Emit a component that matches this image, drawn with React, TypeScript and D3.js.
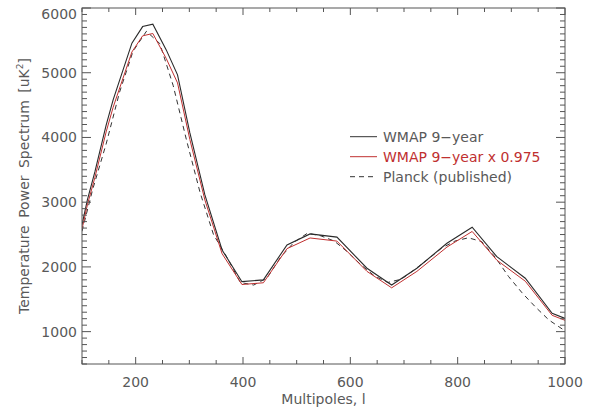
import * as d3 from 'd3';
import React from 'react';

// WMAP 9-year binned spectrum
const wmapL = [100, 110, 124, 145, 158, 193, 213, 232, 257, 278, 301, 329, 361, 398, 438, 482, 525, 575, 631, 677, 724, 780, 827, 873, 926, 976, 1000];
const wmapV = [2650, 3035, 3468, 4190, 4580, 5457, 5713, 5750, 5353, 4967, 4070, 3112, 2262, 1772, 1800, 2340, 2510, 2460, 1980, 1720, 1980, 2365, 2613, 2158, 1825, 1284, 1205];
// WMAP scaled by 0.975
const wmapScaledV = [2584, 2959, 3381, 4085, 4466, 5321, 5570, 5606, 5219, 4843, 3968, 3034, 2205, 1728, 1755, 2282, 2447, 2399, 1931, 1677, 1931, 2306, 2548, 2104, 1779, 1252, 1175];
// Planck published
const planckL = [100, 120, 145, 170, 195, 220, 245, 270, 295, 320, 345, 370, 395, 420, 445, 470, 495, 520, 545, 570, 595, 620, 645, 670, 695, 720, 745, 770, 795, 820, 845, 870, 895, 920, 945, 970, 995, 1000];
const planckV = [2550, 3200, 3900, 4700, 5330, 5640, 5450, 4800, 3950, 3150, 2500, 2150, 1760, 1720, 1830, 2150, 2380, 2520, 2480, 2400, 2230, 2030, 1860, 1760, 1810, 1960, 2120, 2290, 2400, 2450, 2390, 2150, 1850, 1600, 1380, 1180, 1040, 1030];

const xTicks = [200, 400, 600, 800, 1000];
const yTicks = [1000, 2000, 3000, 4000, 5000, 6000];
const legendLabels = ['WMAP 9\u2212year', 'WMAP 9\u2212year x 0.975', 'Planck (published)'];

const W = 595, H = 410;
const left = 82, right = 565, top = 8, bottom = 364;
const axisColor = '#555';
const textColor = '#595959';
const red = '#c03030';
const font = 'DejaVu Sans, sans-serif';

export default function App() {
  const x = d3.scaleLinear().domain([100, 1000]).range([left, right]);
  const y = d3.scaleLinear().domain([500, 6000]).range([bottom, top]);

  const line = d3.line<[number, number]>().x(d => x(d[0])).y(d => y(d[1]));
  const wmap = line(wmapL.map((l, i) => [l, wmapV[i]]));
  const wmapS = line(wmapL.map((l, i) => [l, wmapScaledV[i]]));
  const planck = line(planckL.map((l, i) => [l, planckV[i]]));

  const xMinor = d3.range(100, 1001, 50).filter(v => !xTicks.includes(v));
  const yMinor = d3.range(500, 6001, 100).filter(v => !yTicks.includes(v));

  const series = [
    { label: legendLabels[0], color: '#333', dash: undefined, textColor: textColor },
    { label: legendLabels[1], color: red, dash: undefined, textColor: red },
    { label: legendLabels[2], color: '#333', dash: '5,4', textColor: textColor },
  ];

  return (
    <svg width={W} height={H} style={{ position: 'absolute', left: 0, top: 0, background: '#fff' }}
      fontFamily={font}>
      <defs>
        <clipPath id="plot">
          <rect x={left} y={top} width={right - left} height={bottom - top} />
        </clipPath>
      </defs>

      <g clipPath="url(#plot)" fill="none" strokeLinejoin="miter">
        <path d={planck || ''} stroke="#333" strokeWidth={1} strokeDasharray="5,4" />
        <path d={wmap || ''} stroke="#2a2a2a" strokeWidth={1.1} />
        <path d={wmapS || ''} stroke={red} strokeWidth={1} />
      </g>

      {/* frame */}
      <rect x={left} y={top} width={right - left} height={bottom - top} fill="none" stroke={axisColor} strokeWidth={1} />

      {/* x ticks bottom + top */}
      {xTicks.map(t => (
        <g key={'xt' + t} stroke={axisColor}>
          <line x1={x(t)} x2={x(t)} y1={bottom} y2={bottom - 7} />
          <line x1={x(t)} x2={x(t)} y1={top} y2={top + 7} />
        </g>
      ))}
      {xMinor.map(t => (
        <g key={'xm' + t} stroke={axisColor}>
          <line x1={x(t)} x2={x(t)} y1={bottom} y2={bottom - 4} />
          <line x1={x(t)} x2={x(t)} y1={top} y2={top + 4} />
        </g>
      ))}
      {xTicks.map(t => (
        <text key={'xl' + t} x={x(t)} y={386.5} textAnchor="middle" fontSize={14} fill={textColor}>{t}</text>
      ))}

      {/* y ticks left + right */}
      {yTicks.map(t => (
        <g key={'yt' + t} stroke={axisColor}>
          <line x1={left} x2={left + 9} y1={y(t)} y2={y(t)} />
          <line x1={right} x2={right - 9} y1={y(t)} y2={y(t)} />
        </g>
      ))}
      {yMinor.map(t => (
        <g key={'ym' + t} stroke={axisColor}>
          <line x1={left} x2={left + 5} y1={y(t)} y2={y(t)} />
          <line x1={right} x2={right - 5} y1={y(t)} y2={y(t)} />
        </g>
      ))}
      {yTicks.map(t => (
        <text key={'yl' + t} x={77} y={Math.max(y(t), 14) + 5} textAnchor="end" fontSize={14} fill={textColor}>{t}</text>
      ))}

      {/* axis titles */}
      <text x={(left + right) / 2} y={404} textAnchor="middle" fontSize={14} fill={textColor}>Multipoles, l</text>
      <text transform={`translate(29, ${(top + bottom) / 2}) rotate(-90)`} textAnchor="middle" fontSize={14}
        fill={textColor} wordSpacing={3}>
        Temperature Power Spectrum [uK<tspan dy={-6} fontSize={9}>2</tspan><tspan dy={6}>]</tspan>
      </text>

      {/* legend */}
      {series.map((s, i) => (
        <g key={'lg' + i}>
          <line x1={350} x2={377} y1={136.7 + i * 20} y2={136.7 + i * 20} stroke={s.color} strokeWidth={1}
            strokeDasharray={s.dash} />
          <text x={383} y={141.5 + i * 20} fontSize={14} fill={s.textColor}>{s.label}</text>
        </g>
      ))}
    </svg>
  );
}
